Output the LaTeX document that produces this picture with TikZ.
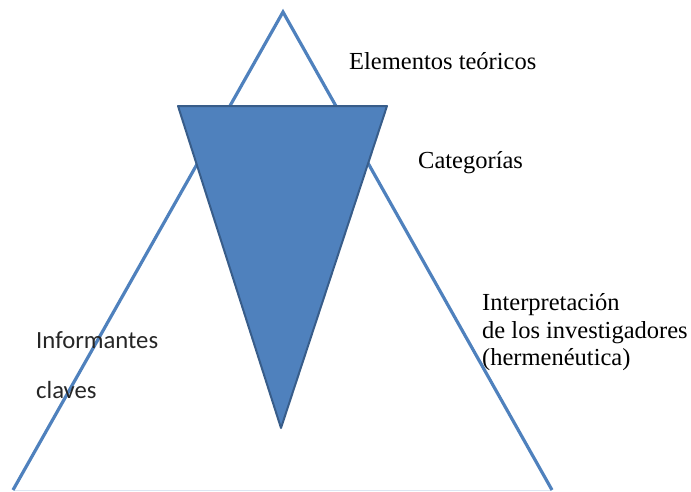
\documentclass[tikz,border=0pt]{standalone}
\usepackage{fontspec}
\setmainfont{Liberation Serif}
\newfontfamily\calfont{Carlito}
\definecolor{accblue}{HTML}{4F81BD}
\definecolor{accdark}{HTML}{385D8A}
\definecolor{basecol}{HTML}{DCE6F2}
\begin{document}
\begin{tikzpicture}[x=1pt,y=-1pt,
  outline/.style={draw=accblue,line width=3.2pt},
  invtri/.style={fill=accblue,draw=accdark,line width=2pt,line join=round},
  serlabel/.style={anchor=base west,inner sep=0pt,font=\fontsize{24.5}{28}\selectfont},
  sanslabel/.style={anchor=base west,inner sep=0pt,font=\calfont\fontsize{24.7}{28}\selectfont,text=black!85}]
\useasboundingbox (0,0) rectangle (691,491);
\coordinate (apex) at (283,12);
\coordinate (bl) at (13,490);
\coordinate (br) at (552,490);
\coordinate (tl) at (178,106);
\coordinate (tr) at (387,106);
\coordinate (tip) at (281,428);
\draw[draw=basecol,line width=1pt] (bl) -- (br);
\draw[outline] (bl) -- (apex) -- (br);
\draw[invtri] (tl) -- (tr) -- (tip) -- cycle;
\node[serlabel] (elem) at (349,69) {Elementos teóricos};
\node[serlabel] (cat) at (418,168) {Categorías};
\node[serlabel] (int1) at (482,310) {Interpretación};
\node[serlabel] (int2) at (482,338) {de los investigadores};
\node[serlabel] (int3) at (482,365) {(hermenéutica)};
\node[sanslabel] (inf) at (36,348) {Informantes};
\node[sanslabel] (clav) at (36,398) {claves};
\end{tikzpicture}
\end{document}
